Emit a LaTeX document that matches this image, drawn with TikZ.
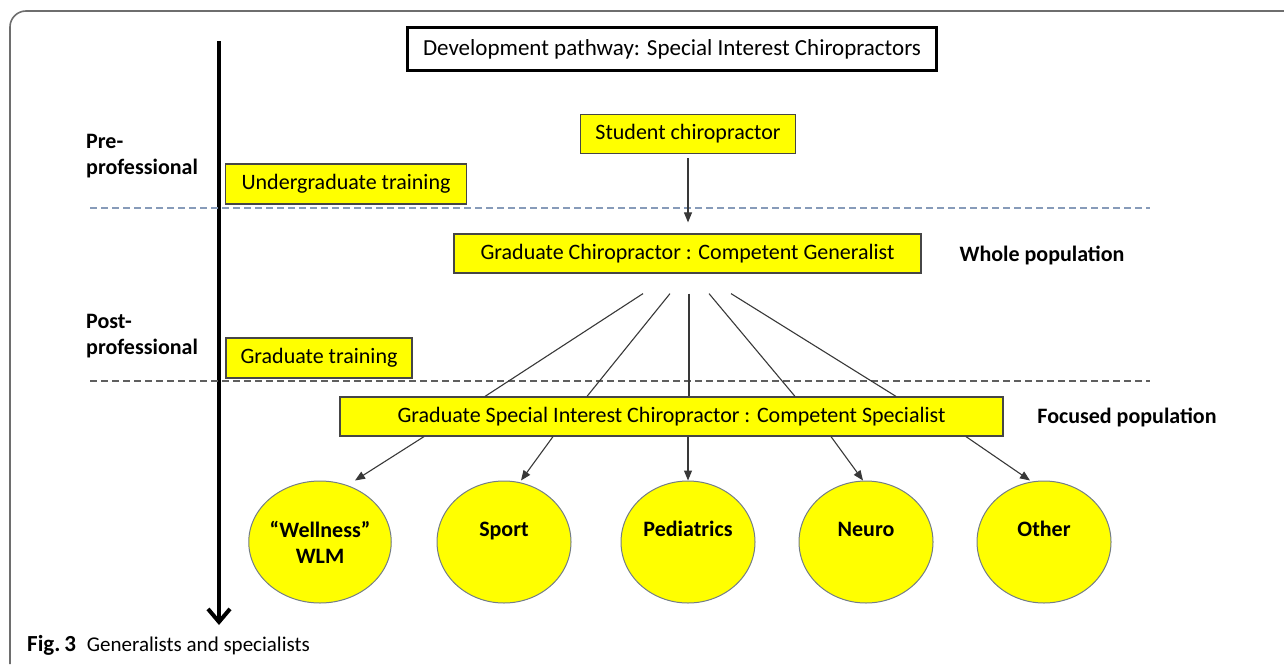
\documentclass[tikz,border=0pt]{standalone}
\usepackage{fontspec}
\setmainfont{Carlito}
\usetikzlibrary{positioning,calc,arrows.meta,shapes.geometric}

\definecolor{boxyellow}{RGB}{255,255,0}
\definecolor{boxline}{RGB}{70,70,70}
\definecolor{ringline}{RGB}{115,125,135}
\definecolor{bluedash}{RGB}{135,155,185}
\definecolor{greydash}{RGB}{95,95,95}
\definecolor{framegrey}{RGB}{110,110,110}

\begin{document}
\begin{tikzpicture}[
  x=1pt, y=-1pt,
  box/.style={rectangle, draw=boxline, fill=boxyellow, line width=1.2pt,
              inner sep=0pt, text=black, font=\fontsize{22}{26}\selectfont},
  headbox/.style={rectangle, draw=black, line width=3pt, inner sep=0pt,
                  font=\fontsize{23}{27}\selectfont},
  topic/.style={ellipse, draw=ringline, fill=boxyellow, line width=1pt,
                minimum width=134pt, minimum height=122pt, inner sep=0pt,
                align=center, font=\bfseries\fontsize{22}{26}\selectfont},
  note/.style={font=\bfseries\fontsize{22}{26}\selectfont, inner sep=0pt, align=left},
  link/.style={draw=black!78, line width=1.1pt},
  arr/.style={link, -{Triangle[length=10pt,width=8pt]}}
]
\useasboundingbox (0,0) rectangle (1284,664);

% frame and time axis
\draw[framegrey, line width=1.6pt, rounded corners=16pt] (10,664) -- (10,11) -- (1284,11);
\draw[line width=4pt, -{Straight Barb[length=13pt,width=22pt]}] (219,41) -- (219,625);

% stage dividers
\draw[bluedash, line width=1.5pt, dash pattern=on 7pt off 4pt] (90,208) -- (1150,208);
\draw[greydash, line width=1.5pt, dash pattern=on 7pt off 4pt] (90,381) -- (1150,381);

\node[headbox, minimum width=529pt, minimum height=43pt] (head) at (672,49)
  {Development pathway: Special Interest Chiropractors};
\node[box, minimum width=215pt, minimum height=39pt] (student) at (688,134) {Student chiropractor};
\node[box, minimum width=241pt, minimum height=40pt] (ugrad) at (346,184) {Undergraduate training};
\node[box, minimum width=467pt, minimum height=39pt] (gen) at (687.5,253.5)
  {Graduate Chiropractor : Competent Generalist};
\node[box, minimum width=186pt, minimum height=40pt] (pgrad) at (319,358) {Graduate training};
\node[box, minimum width=663pt, minimum height=39pt] (spec) at (671.5,416.5)
  {Graduate Special Interest Chiropractor : Competent Specialist};

\node[note, anchor=west] (pre) at (86,156) {Pre-\\professional};
\node[note, anchor=west] (post) at (86,336) {Post-\\professional};
\node[note] (whole) at (1042,255) {Whole population};
\node[note] (focus) at (1127,417) {Focused population};

% special interest areas
\node[topic] (well)  at (320,542)  {“Wellness”\\WLM};
\node[topic] (sport) at (504,542)  {Sport\\~};
\node[topic] (paed)  at (688,542)  {Pediatrics\\~};
\node[topic] (neuro) at (866,542)  {Neuro\\~};
\node[topic] (other) at (1044,542) {Other\\~};

\draw[arr, shorten <=4pt, shorten >=11pt] (student.south) -- (student.south |- gen.north);

\draw[link] ($(gen.south)+(-44.5,20)$) -- ($(spec.north)+(-186.5,0)$);
\draw[link] ($(gen.south)+(-17.5,20)$) -- ($(spec.north)+(-84.5,0)$);
\draw[link] ($(gen.south)+(1.5,20)$)   -- ($(spec.north)+(17.5,0)$);
\draw[link] ($(gen.south)+(21.5,20)$)  -- ($(spec.north)+(123.5,0)$);
\draw[link] ($(gen.south)+(43.5,20)$)  -- ($(spec.north)+(224.5,0)$);

\draw[arr] ($(spec.south)+(-247.5,0)$) -- ($(well.north)+(35,0)$);
\draw[arr] ($(spec.south)+(-118.5,0)$) -- ($(sport.north)+(17,0)$);
\draw[arr] ($(spec.south)+(16.5,0)$)   -- (paed.north);
\draw[arr] ($(spec.south)+(159.5,0)$)  -- ($(neuro.north)+(-3,0)$);
\draw[arr] ($(spec.south)+(294.5,0)$)  -- ($(other.north)+(-14,0)$);

\node[anchor=west, inner sep=0pt, font=\fontsize{21}{25}\selectfont] (caption) at (27,645)
  {{\fontsize{23}{25}\selectfont\textbf{Fig.\,3}}\hspace{11pt}Generalists and specialists};
\end{tikzpicture}
\end{document}
